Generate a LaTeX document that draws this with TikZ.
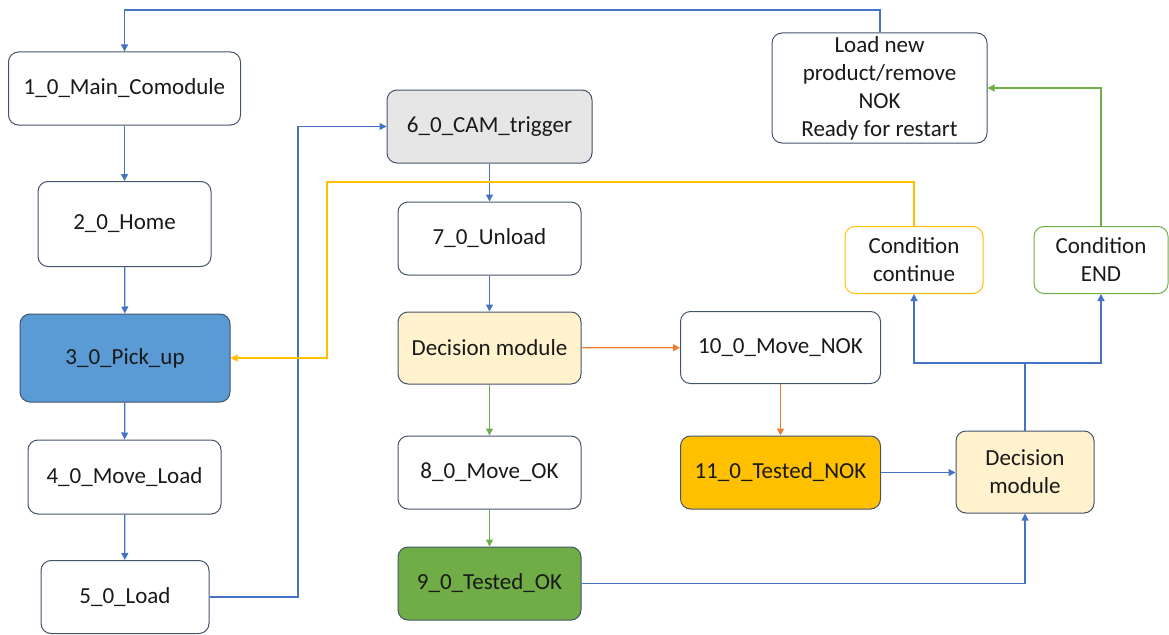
\documentclass[tikz,border=0pt]{standalone}
\usepackage{fontspec}
\setmainfont{Carlito}
\usetikzlibrary{arrows.meta}
\definecolor{lblue}{HTML}{4472C4}
\definecolor{lorange}{HTML}{ED7D31}
\definecolor{lyellow}{HTML}{FFC000}
\definecolor{lgreen}{HTML}{70AD47}
\definecolor{bord}{HTML}{44546A}
\definecolor{fblue}{HTML}{5B9BD5}
\definecolor{fgray}{HTML}{E7E6E6}
\definecolor{fcream}{HTML}{FFF2CC}
\definecolor{fgreen}{HTML}{70AD47}
\definecolor{forange}{HTML}{FFC000}
\tikzset{
  box/.style={draw=bord, line width=1pt, rounded corners=10pt, fill=white, align=center,
    inner sep=0pt, font=\fontsize{23}{28}\selectfont, text=black!90},
  conn/.style={line width=1.2pt, -{Triangle[length=7pt,width=7pt]}},
}
\begin{document}
\begin{tikzpicture}[x=1pt,y=-1pt]
\useasboundingbox (0,0) rectangle (1169,634);
% left column
\node[box, minimum width=232, minimum height=73] (n1) at (124.5,88.5) {1\_0\_Main\_Comodule};
\node[box, minimum width=173, minimum height=85] (n2) at (124.5,224) {2\_0\_Home};
\node[box, fill=fblue, minimum width=210, minimum height=88] (n3) at (125,358) {3\_0\_Pick\_up};
\node[box, minimum width=193, minimum height=74] (n4) at (124.5,477) {4\_0\_Move\_Load};
\node[box, minimum width=168, minimum height=73] (n5) at (125,597) {5\_0\_Load};
% middle column
\node[box, fill=fgray, minimum width=205, minimum height=73] (n6) at (489.5,126.5) {6\_0\_CAM\_trigger};
\node[box, minimum width=183, minimum height=73] (n7) at (489.5,238.5) {7\_0\_Unload};
\node[box, fill=fcream, minimum width=183, minimum height=72] (d1) at (489.5,348) {Decision module};
\node[box, minimum width=183, minimum height=73] (n8) at (489.5,472.5) {8\_0\_Move\_OK};
\node[box, fill=fgreen, minimum width=183, minimum height=73] (n9) at (489.5,583.5) {9\_0\_Tested\_OK};
% right part
\node[box, minimum width=200, minimum height=72] (n10) at (780.5,347.5) {10\_0\_Move\_NOK};
\node[box, fill=forange, minimum width=200, minimum height=73] (n11) at (780.5,472.5) {11\_0\_Tested\_NOK};
\node[box, fill=fcream, minimum width=138, minimum height=82] (d2) at (1025,472) {Decision\\module};
\node[box, draw=lyellow, minimum width=138, minimum height=67] (cc) at (914,260) {Condition\\continue};
\node[box, draw=lgreen, minimum width=134, minimum height=67] (ce) at (1101,260) {Condition\\END};
\node[box, minimum width=215, minimum height=110] (ld) at (879.5,88) {Load new\\product/remove\\NOK\\Ready for restart};
% coordinates
\coordinate (top) at (880,10);
\coordinate (brk) at (1025,363);
% connectors
\draw[conn, lblue] (ld.north -| top) -- (top) -| (n1.north);
\draw[conn, lblue] (n1) -- (n2);
\draw[conn, lblue] (n2) -- (n3);
\draw[conn, lblue] (n3) -- (n4);
\draw[conn, lblue] (n4) -- (n5);
\draw[conn, lblue] (n5.east) -- (298,597) |- (n6.west);
\draw[conn, lblue] (n6) -- (n7);
\draw[conn, lblue] (n7) -- (d1);
\draw[conn, lorange] (d1) -- (n10);
\draw[conn, lgreen] (d1) -- (n8);
\draw[conn, lgreen] (n8) -- (n9);
\draw[conn, lorange] (n10) -- (n11);
\draw[conn, lblue] (n11.east) -- (d2.west |- n11.east);
\draw[conn, lblue] (n9.east) -| (d2.south);
\draw[line width=1.2pt, lblue] (d2.north) -- (brk);
\draw[conn, lblue] (brk) -| (cc.south);
\draw[conn, lblue] (brk) -| (ce.south);
\draw[conn, lyellow] (cc.north) |- (327,182) |- (n3.east);
\draw[conn, lgreen] (ce.north) |- (ld.east);
\end{tikzpicture}
\end{document}
